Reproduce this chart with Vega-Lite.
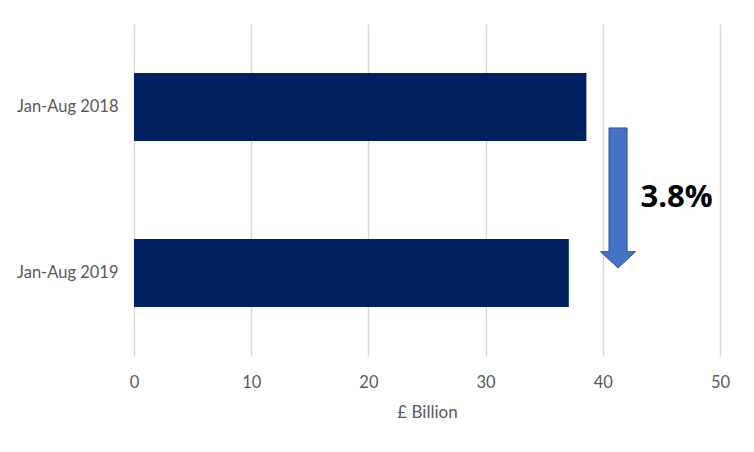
{
  "$schema": "https://vega.github.io/schema/vega-lite/v6.json",
  "width": 586,
  "height": 332,
  "autosize": {"type": "none"},
  "padding": {"left": 134, "top": 24, "right": 34, "bottom": 96},
  "background": "white",
  "config": {
    "view": {"stroke": null},
    "font": "Lato",
    "axis": {"labelColor": "#595959", "titleColor": "#595959", "labelFontSize": 16.5, "titleFontSize": 17, "titleFontWeight": "normal"}
  },
  "encoding": {
    "x": {
      "field": "value",
      "type": "quantitative",
      "title": "£ Billion",
      "scale": {"domain": [0, 50]},
      "axis": {"values": [0, 10, 20, 30, 40, 50], "ticks": false, "domain": false, "labelFlush": false, "gridColor": "#D9D9D9", "gridWidth": 1.5, "labelPadding": 18, "titlePadding": 14}
    }
  },
  "layer": [
    {
      "data": {
        "values": [
          {"period": "Jan-Aug 2018", "value": 38.6},
          {"period": "Jan-Aug 2019", "value": 37.1}
        ]
      },
      "mark": {"type": "bar", "color": "#002060"},
      "encoding": {
        "y": {
          "field": "period",
          "type": "nominal",
          "title": null,
          "scale": {"paddingInner": 0.59, "paddingOuter": 0.295},
          "axis": {"ticks": false, "domain": false, "labelPadding": 16, "grid": false}
        }
      }
    },
    {
      "data": {"values": [{"value": 41.3, "y": 0.476}]},
      "mark": {
        "type": "point",
        "shape": "M-0.129,-1 L0.129,-1 L0.129,0.767 L0.25,0.767 L0,1 L-0.25,0.767 L-0.129,0.767 Z",
        "size": 19600,
        "filled": true,
        "fill": "#4472C4",
        "stroke": "#2F528F",
        "strokeWidth": 1,
        "opacity": 1
      },
      "encoding": {
        "y": {"field": "y", "type": "quantitative", "scale": {"domain": [0, 1]}, "axis": null}
      }
    },
    {
      "data": {"values": [{"value": 46.3, "y": 0.476, "label": "3.8%"}]},
      "mark": {"type": "text", "fontSize": 31, "fontWeight": "bold", "color": "#000000", "font": "Open Sans"},
      "encoding": {
        "y": {"field": "y", "type": "quantitative", "scale": {"domain": [0, 1]}, "axis": null},
        "text": {"field": "label"}
      }
    }
  ],
  "resolve": {"scale": {"y": "independent"}, "axis": {"y": "independent"}}
}
